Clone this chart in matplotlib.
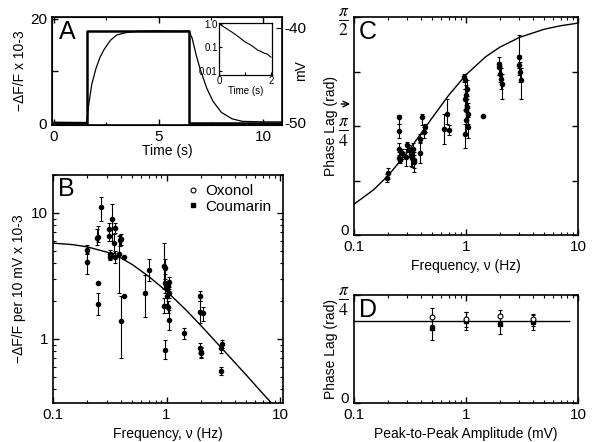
import numpy as np
import matplotlib
matplotlib.use('Agg')
import matplotlib.pyplot as plt
from matplotlib.ticker import LogLocator, NullFormatter, FixedLocator

plt.rcParams['font.family'] = ['Liberation Sans', 'DejaVu Sans']
plt.rcParams['mathtext.fontset'] = 'stix'
plt.rcParams['axes.unicode_minus'] = False

# Panel A: step response traces (time in s)
t_step = [0.0, 1.56, 1.56, 6.44, 6.44, 11.0]
v_step = [-50.0, -50.0, -40.3, -40.3, -50.0, -50.0]
t_fluor = [0.0, 1.0, 1.56, 1.65, 1.8, 2.0, 2.2, 2.4, 2.7, 3.0, 3.5, 4.0, 5.0, 6.0, 6.44,
           6.6, 6.8, 7.0, 7.3, 7.6, 8.0, 8.5, 9.0, 10.0, 11.0]
f_fluor = [0.35, 0.3, 0.3, 3.5, 7.5, 10.5, 12.7, 14.2, 15.9, 16.9, 17.4, 17.6, 17.7, 17.6, 17.7,
           16.3, 13.0, 10.2, 6.8, 4.3, 2.2, 1.0, 0.5, 0.4, 0.4]
t_inset = [0.0, 0.25, 0.5, 0.75, 1.0, 1.25, 1.5, 1.6, 1.75, 1.85, 2.0]
f_inset = [1.0, 0.66, 0.44, 0.28, 0.17, 0.12, 0.074, 0.068, 0.055, 0.052, 0.038]

# Panel B: amplitude vs frequency (value, lower and upper error ends)
freq_b = [0.199, 0.199, 0.244, 0.247, 0.248, 0.248, 0.264, 0.309, 0.309, 0.315, 0.32, 0.33,
          0.342, 0.348, 0.35, 0.378, 0.385, 0.397, 0.40, 0.419, 0.425, 0.649, 0.704, 0.955,
          0.96, 0.965, 0.955, 0.96, 1.0, 1.0, 1.02, 1.03, 1.05, 1.06, 1.06, 1.41, 1.98, 1.97,
          2.1, 1.98, 2.0, 2.02, 3.0, 3.05, 3.02]
amp_b = [5.1, 4.1, 6.3, 6.5, 2.8, 1.9, 11.1, 7.4, 6.6, 4.7, 4.5, 9.0, 5.8, 7.6, 4.5, 4.7,
         6.1, 6.2, 1.39, 4.5, 2.2, 2.3, 3.5, 3.8, 3.65, 2.8, 1.84, 0.82, 2.5, 2.2, 1.8, 2.65,
         2.85, 2.3, 1.42, 1.11, 2.2, 1.65, 1.62, 0.84, 0.79, 0.77, 0.84, 0.91, 0.56]
lo_b = [4.7, 3.3, 5.6, 5.9, 2.8, 1.55, 8.7, 6.6, 6.0, 4.3, 4.2, 6.0, 4.8, 6.9, 4.0, 2.3,
        5.5, 5.6, 0.70, 4.5, 2.2, 1.5, 2.9, 2.5, 3.0, 2.3, 1.6, 0.69, 2.2, 1.9, 1.6, 2.4,
        2.6, 2.1, 1.18, 1.0, 2.0, 1.35, 1.4, 0.77, 0.72, 0.70, 0.78, 0.85, 0.52]
hi_b = [5.6, 4.8, 7.5, 7.9, 2.8, 2.3, 13.3, 8.3, 7.3, 5.1, 4.9, 11.7, 6.8, 8.3, 5.0, 6.6,
        6.7, 6.8, 2.2, 4.5, 2.2, 3.2, 4.3, 5.8, 4.3, 3.3, 2.1, 0.98, 2.8, 2.5, 2.0, 2.9,
        3.1, 2.5, 1.7, 1.22, 2.4, 2.0, 1.8, 0.92, 0.87, 0.84, 0.9, 0.98, 0.6]
fit_freq = [0.1, 0.15, 0.2, 0.3, 0.4, 0.5, 0.7, 1.0, 1.5, 2.0, 3.0, 5.0, 7.0, 8.5]
fit_amp = [5.76, 5.6, 5.38, 4.88, 4.37, 3.89, 3.12, 2.39, 1.68, 1.28, 0.86, 0.52, 0.37, 0.306]

# Panel C: phase lag vs frequency (rad)
freq_c = [0.20, 0.197, 0.25, 0.25, 0.25, 0.25, 0.255, 0.27, 0.29, 0.30, 0.31, 0.32, 0.33,
          0.335, 0.34, 0.345, 0.39, 0.39, 0.405, 0.42, 0.43, 0.635, 0.67, 0.70, 0.96, 0.98,
          1.0, 0.97, 1.02, 0.99, 1.04, 1.0, 1.05, 0.97, 1.03, 1.41, 1.95, 1.98, 2.0, 2.05,
          2.1, 3.0, 3.0, 3.05, 3.1]
phase_c = [0.444, 0.408, 0.847, 0.751, 0.623, 0.552, 0.540, 0.588, 0.564, 0.647, 0.611,
           0.576, 0.552, 0.623, 0.540, 0.528, 0.588, 0.695, 0.851, 0.743, 0.779, 0.767,
           0.875, 0.755, 1.139, 1.115, 1.007, 0.983, 0.923, 0.899, 0.875, 0.827, 0.779,
           0.731, 1.05, 0.858, 1.235, 1.211, 1.163, 1.127, 1.091, 1.283, 1.223, 1.175, 1.115]
lo_c = [0.40, 0.384, 0.80, 0.70, 0.58, 0.516, 0.52, 0.55, 0.50, 0.60, 0.56, 0.50, 0.49,
        0.58, 0.456, 0.48, 0.516, 0.66, 0.791, 0.70, 0.74, 0.659, 0.80, 0.719, 1.10, 1.05,
        0.94, 0.90, 0.85, 0.80, 0.80, 0.72, 0.70, 0.624, 0.98, 0.858, 1.20, 1.15, 1.10,
        1.05, 0.983, 1.20, 1.15, 1.10, 0.983]
hi_c = [0.48, 0.44, 0.863, 0.80, 0.66, 0.60, 0.58, 0.62, 0.62, 0.671, 0.65, 0.62, 0.60,
        0.66, 0.60, 0.58, 0.671, 0.73, 0.875, 0.78, 0.80, 0.875, 0.983, 0.791, 1.163, 1.16,
        1.08, 1.05, 1.00, 0.97, 0.95, 0.90, 0.85, 0.80, 1.12, 0.858, 1.283, 1.25, 1.22,
        1.20, 1.16, 1.439, 1.30, 1.25, 1.20]
fit_freq_c = [0.1, 0.15, 0.2, 0.3, 0.4, 0.5, 0.7, 1.0, 1.5, 2.0, 3.0, 5.0, 7.0, 10.0]
fit_phase_c = [0.222, 0.327, 0.425, 0.596, 0.736, 0.846, 1.007, 1.155, 1.285, 1.353, 1.424,
               1.483, 1.508, 1.527]
arrow_phase = 0.944

# Panel D: phase lag vs peak-to-peak amplitude
amp_d = [0.5, 1.0, 2.0, 4.0]
oxo_d = [0.628, 0.608, 0.633, 0.608]
oxo_lo = [0.57, 0.55, 0.58, 0.56]
oxo_hi = [0.69, 0.66, 0.68, 0.65]
cou_d = [0.548, 0.599, 0.575, 0.587]
cou_lo = [0.46, 0.53, 0.50, 0.53]
cou_hi = [0.63, 0.66, 0.65, 0.64]
fit_d = 0.60

FS = 10
LW = 1.2
PI_FS = 18


def style(ax):
    for s in ax.spines.values():
        s.set_linewidth(LW)
    ax.tick_params(which='both', direction='in', top=True, right=True, labelsize=FS)
    ax.tick_params(which='major', length=4, width=1)
    ax.tick_params(which='minor', length=2.5, width=0.8)


def errs(y, lo, hi):
    y = np.array(y)
    return [y - np.array(lo), np.array(hi) - y]


def log_x(ax, lo, hi):
    ax.set_xscale('log')
    ax.set_xlim(lo, hi)
    ax.xaxis.set_major_locator(FixedLocator([0.1, 1, 10]))
    ax.set_xticklabels(['0.1', '1', '10'])
    ax.xaxis.set_minor_locator(LogLocator(subs=np.arange(2, 10)))
    ax.xaxis.set_minor_formatter(NullFormatter())


def zero_up(ax):
    # the "0" on the phase axes sits just above the "0.1"
    lab = ax.get_yticklabels()[0]
    lab.set_verticalalignment('baseline')
    lab.set_fontsize(FS + 1)


fig = plt.figure(figsize=(5.95, 4.42), dpi=100)

# ---- A
axA = fig.add_axes([0.0874, 0.7172, 0.3866, 0.2443])
style(axA)
axA.tick_params(right=False)
axA.plot(t_fluor, f_fluor, color='k', lw=0.9)
axA.set_xlim(-0.1, 10.9)
axA.set_ylim(-0.19, 20.3)
axA.set_xticks([0, 5, 10])
axA.set_xticks([2.5, 7.5], minor=True)
axA.set_yticks([0, 10, 20])
axA.set_yticklabels(['0', '', '20'])
axA.tick_params(labelsize=FS + 1)
axA.set_xlabel('Time (s)', fontsize=FS, labelpad=0)
axA.set_ylabel('−ΔF/F x 10-3', fontsize=FS, labelpad=2)
axA.text(0.03, 0.97, 'A', transform=axA.transAxes, fontsize=18, va='top', ha='left')
axA2 = axA.twinx()
axA2.plot(t_step, v_step, color='k', lw=1.8)
axA2.set_ylim(-50.25, -38.84)
axA2.set_yticks([-50, -40])
axA2.tick_params(direction='in', labelsize=FS + 1, length=4, pad=2)
axA2.set_ylabel('mV', fontsize=FS, labelpad=-9)

axI = fig.add_axes([0.368, 0.8303, 0.0891, 0.1176])
axI.plot(t_inset, f_inset, color='k', lw=0.8)
axI.set_yscale('log')
axI.set_xlim(0, 2.04)
axI.set_ylim(0.0066, 1.07)
axI.set_xticks([0, 1, 2])
axI.set_xticklabels(['0', '', '2'])
axI.set_yticks([0.01, 0.1, 1.0])
axI.set_yticklabels(['0.01', '0.1', '1.0'])
axI.yaxis.set_minor_formatter(NullFormatter())
axI.tick_params(which='both', direction='in', labelsize=7, pad=1, length=2)
axI.tick_params(which='minor', length=0)
for s in axI.spines.values():
    s.set_linewidth(0.9)
axI.set_xlabel('Time (s)', fontsize=7, labelpad=0)

# ---- B
axB = fig.add_axes([0.0891, 0.0882, 0.3866, 0.5158])
style(axB)
log_x(axB, 0.1, 10.6)
axB.set_yscale('log')
axB.set_ylim(0.31, 20)
axB.yaxis.set_major_locator(FixedLocator([1, 10]))
axB.set_yticklabels(['1', '10'])
axB.yaxis.set_minor_locator(LogLocator(subs=np.arange(2, 10)))
axB.yaxis.set_minor_formatter(NullFormatter())
axB.tick_params(labelsize=FS + 1)
axB.plot(fit_freq, fit_amp, color='k', lw=1.0)
axB.errorbar(freq_b, amp_b, yerr=errs(amp_b, lo_b, hi_b), fmt='o', ms=3, color='k',
             elinewidth=0.8, capsize=1.5, capthick=0.8)
axB.plot([], [], 'o', ms=3.5, mfc='white', mec='k', mew=0.8, label='Oxonol')
axB.plot([], [], 's', ms=3.5, color='k', label='Coumarin')
axB.legend(loc='upper right', frameon=False, fontsize=FS + 1, handlelength=1,
           handletextpad=0.3, labelspacing=0.1, borderaxespad=0.2, bbox_to_anchor=(0.99, 1.0))
axB.set_xlabel('Frequency, ν (Hz)', fontsize=FS)
axB.set_ylabel('−ΔF/F per 10 mV x 10-3', fontsize=FS)
axB.text(0.02, 0.99, 'B', transform=axB.transAxes, fontsize=18, va='top', ha='left')

# ---- C
axC = fig.add_axes([0.595, 0.4683, 0.3765, 0.4932])
style(axC)
log_x(axC, 0.1, 10)
axC.tick_params(axis='x', labelsize=FS + 1)
axC.set_ylim(0, np.pi / 2)
axC.set_yticks([0, np.pi / 8, np.pi / 4, 3 * np.pi / 8, np.pi / 2])
axC.set_yticklabels(['0', '', r'$\frac{\pi}{4}$', '', r'$\frac{\pi}{2}$'], fontsize=PI_FS)
zero_up(axC)
axC.plot(fit_freq_c, fit_phase_c, color='k', lw=1.0)
axC.errorbar(freq_c, phase_c, yerr=errs(phase_c, lo_c, hi_c), fmt='o', ms=3, color='k',
             elinewidth=0.8, capsize=1.5, capthick=0.8)
axC.annotate('', xy=(-0.005, arrow_phase), xytext=(-0.07, arrow_phase),
             xycoords=('axes fraction', 'data'), textcoords=('axes fraction', 'data'),
             arrowprops=dict(arrowstyle='->', color='k', lw=1), annotation_clip=False)
axC.set_xlabel('Frequency, ν (Hz)', fontsize=FS)
axC.set_ylabel('Phase Lag (rad)', fontsize=FS, labelpad=0)
axC.text(0.02, 0.985, 'C', transform=axC.transAxes, fontsize=18, va='top', ha='left')

# ---- D
axD = fig.add_axes([0.595, 0.0882, 0.3765, 0.2443])
style(axD)
log_x(axD, 0.1, 10)
axD.tick_params(axis='x', labelsize=FS + 1)
axD.set_ylim(0, np.pi / 4)
axD.set_yticks([0, np.pi / 4])
axD.set_yticklabels(['0', r'$\frac{\pi}{4}$'], fontsize=PI_FS)
zero_up(axD)
axD.axhline(fit_d, color='k', lw=1.0, xmax=0.96)
axD.errorbar(amp_d, cou_d, yerr=errs(cou_d, cou_lo, cou_hi), fmt='s', ms=3, color='k',
             elinewidth=0.8, capsize=1.5, capthick=0.8)
axD.errorbar(amp_d, oxo_d, yerr=errs(oxo_d, oxo_lo, oxo_hi), fmt='o', ms=3.5, color='k',
             mfc='white', mew=0.8, elinewidth=0.8, capsize=1.5, capthick=0.8)
axD.set_xlabel('Peak-to-Peak Amplitude (mV)', fontsize=FS)
axD.set_ylabel('Phase Lag (rad)', fontsize=FS, labelpad=0)
axD.text(0.02, 0.97, 'D', transform=axD.transAxes, fontsize=18, va='top', ha='left')

fig.savefig('out.png', dpi=100)
